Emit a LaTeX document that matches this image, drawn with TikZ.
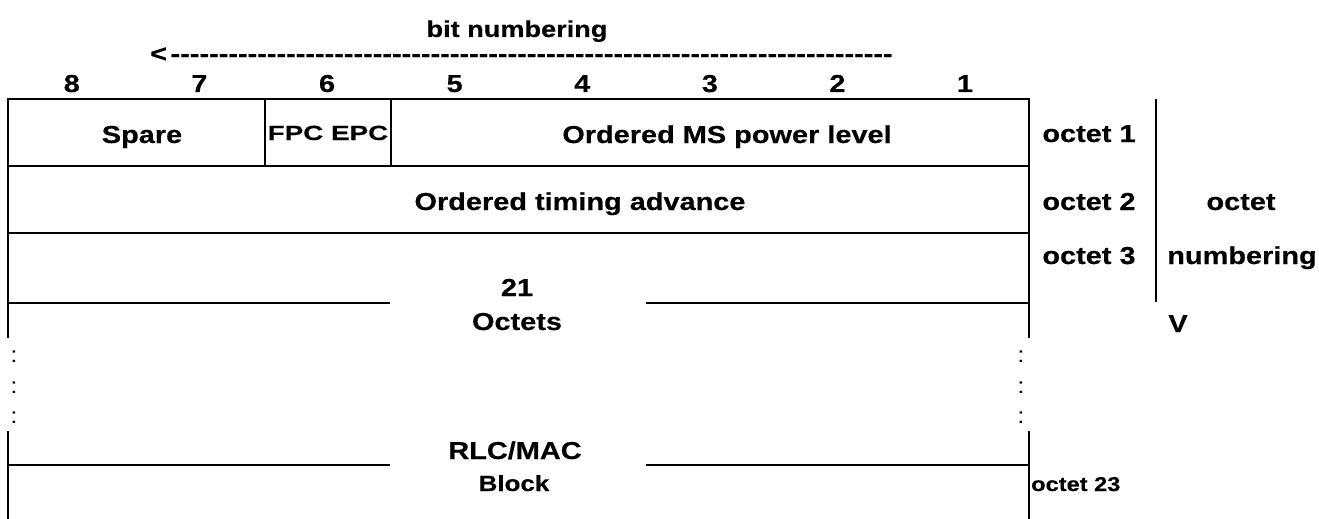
\documentclass[tikz,border=0pt]{standalone}
\usepackage{fontspec}
\setmainfont{Liberation Sans}[FakeStretch=1.18, BoldFeatures={FakeBold=0.4}]
\begin{document}
\begin{tikzpicture}[x=1pt,y=-1pt,
  lbl/.style={font=\fontsize{24.5}{28}\selectfont\bfseries, inner sep=0pt, anchor=base},
  small/.style={font=\fontsize{20}{24}\selectfont\bfseries, inner sep=0pt, anchor=base},
  rule/.style={line width=2.2pt},
  thin/.style={line width=2pt},
  dots/.style={font=\fontsize{22}{24}\selectfont, inner sep=0pt, anchor=base}]
\useasboundingbox (0,0) rectangle (1319,519);
% header
\node[lbl, font=\fontsize{23}{28}\selectfont\bfseries] (bitnum) at (517,37) {bit numbering};
\node[lbl, anchor=base west] (arrow) at (150,62) {\hbox to 746pt{<\cleaders\hbox{-}\hfill}};
\foreach \b [count=\i from 0] in {8,7,6,5,4,3,2,1}
  \node[lbl] (bit\b) at ({71.8+127.6*\i},92) {\b};
% frame
\draw[rule] (8,338) -- (8,99) -- (1029,99) -- (1029,338);
\draw[rule] (8,431) -- (8,519);
\draw[rule] (1029,431) -- (1029,519);
\draw[rule] (8,166) -- (1029,166);
\draw[rule] (8,233) -- (1029,233);
\draw[rule] (265,99) -- (265,166);
\draw[rule] (391,99) -- (391,166);
\draw[rule] (8,303) -- (390,303);
\draw[rule] (646,303) -- (1029,303);
\draw[rule] (8,465) -- (390,465);
\draw[rule] (646,465) -- (1029,465);
\draw[thin] (1156,99) -- (1156,302);
% field texts
\node[lbl] (spare) at (142,143) {Spare};
\node[small, font=\fontsize{20.5}{24}\selectfont\bfseries] (fpc) at (328,140) {\scalebox{1.15}[1]{FPC EPC}};
\node[lbl] (power) at (727,143) {Ordered MS power level};
\node[lbl] (timing) at (580,210) {Ordered timing advance};
\node[lbl] (n21) at (517,296) {21};
\node[lbl] (octets) at (517,330) {Octets};
\node[lbl] (rlc) at (515,459) {RLC/MAC};
\node[lbl, font=\fontsize{22}{24}\selectfont\bfseries] (block) at (514,491) {Block};
% octet labels
\node[lbl] (o1) at (1089,142) {octet 1};
\node[lbl] (o2) at (1089,210) {octet 2};
\node[lbl] (o3) at (1089,264) {octet 3};
\node[lbl] (onum1) at (1241,210) {octet};
\node[lbl] (onum2) at (1242,264) {numbering};
\node[lbl] (vv) at (1178,332) {V};
\node[small, anchor=base west] (o23) at (1031,491) {octet 23};
% continuation colons
\foreach \y [count=\k] in {362,393,423} {
  \node[dots] (cl\k) at (14,\y) {:};
  \node[dots] (cr\k) at (1021,\y) {:};
}
\end{tikzpicture}
\end{document}
